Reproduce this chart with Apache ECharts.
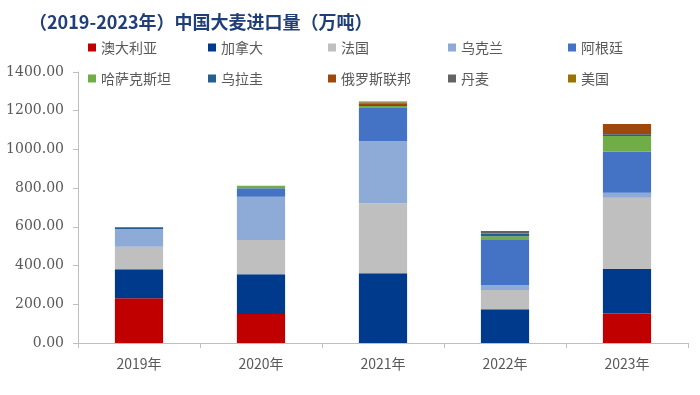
<!DOCTYPE html>
<html>
<head>
<meta charset="utf-8">
<script src="https://cdn.jsdelivr.net/npm/echarts@6/dist/echarts.min.js"></script>
<style>html,body{margin:0;padding:0;background:#fff}#c{width:700px;height:395px}</style>
</head>
<body>
<div id="c"></div>
<script>
var categories = ['2019年', '2020年', '2021年', '2022年', '2023年'];
var seriesNames = ['澳大利亚', '加拿大', '法国', '乌克兰', '阿根廷', '哈萨克斯坦', '乌拉圭', '俄罗斯联邦', '丹麦', '美国'];
var australia  = [231, 150, 0, 0, 153];
var canada     = [150, 205, 360, 174, 229];
var france     = [116, 177, 362, 100, 369];
var ukraine    = [92, 224, 320, 24, 25];
var argentina  = [0, 43, 176, 234, 212];
var kazakhstan = [0, 14, 6, 20, 81];
var uruguay    = [9, 0, 5, 12, 10];
var russia     = [0, 0, 10, 3, 52];
var denmark    = [0, 0, 4, 12, 0];
var usa        = [0, 0, 4, 0, 0];
var yTicks = [0, 200, 400, 600, 800, 1000, 1200, 1400];

var values = [australia, canada, france, ukraine, argentina, kazakhstan, uruguay, russia, denmark, usa];
var colors = ['#c00000', '#003a8c', '#bfbfbf', '#8eaad6', '#4472c4', '#70ad47', '#255e91', '#9e480e', '#636363', '#997300'];

var chart = echarts.init(document.getElementById('c'));
chart.setOption({
  animation: false,
  title: {
    text: '（2019-2023年）中国大麦进口量（万吨）',
    left: 24, top: 8,
    textStyle: { fontSize: 18, fontWeight: 'bold', color: '#203f78', fontFamily: 'Noto Sans CJK SC' }
  },
  legend: {
    left: 83, top: 33, width: 620,
    icon: 'rect', itemWidth: 8, itemHeight: 8, itemGap: 12,
    textStyle: { fontSize: 14, color: '#595959', width: 95, lineHeight: 19, fontFamily: 'Noto Sans CJK SC' },
    data: seriesNames
  },
  grid: { left: 78, right: 12, top: 72, bottom: 52 },
  xAxis: {
    type: 'category', data: categories,
    axisLine: { lineStyle: { color: '#bfbfbf' } },
    axisTick: { show: true, length: 5, lineStyle: { color: '#bfbfbf' } },
    axisLabel: { fontSize: 14, color: '#595959', margin: 14, fontFamily: 'Noto Sans CJK SC' }
  },
  yAxis: {
    type: 'value', min: yTicks[0], max: yTicks[yTicks.length - 1], interval: 200,
    axisLine: { show: true, lineStyle: { color: '#bfbfbf' } },
    axisTick: { show: true, length: 5, lineStyle: { color: '#bfbfbf' } },
    splitLine: { show: false },
    axisLabel: { fontSize: 14, color: '#595959', margin: 14, fontFamily: 'DejaVu Serif',
      formatter: function (v) { return v.toFixed(2); } }
  },
  series: seriesNames.map(function (n, i) {
    return { name: n, type: 'bar', stack: 'total', barWidth: '39.5%', data: values[i],
      itemStyle: { color: colors[i] } };
  })
});
</script>
</body>
</html>
